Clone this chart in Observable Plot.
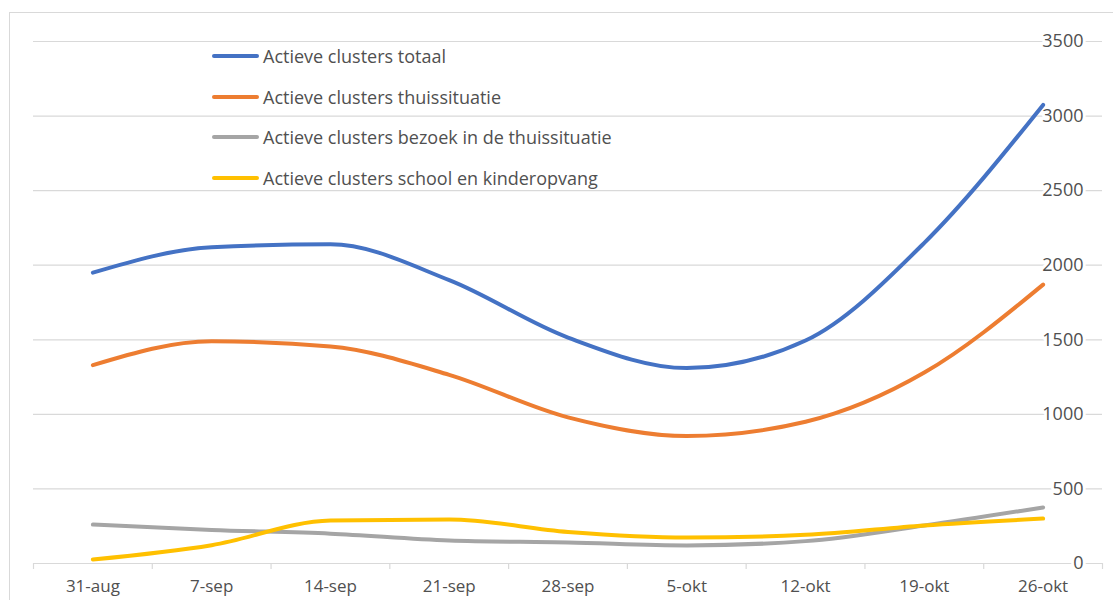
<!DOCTYPE html>
<html>
<head>
<meta charset="utf-8">
<script src="https://cdn.jsdelivr.net/npm/d3@7"></script>
<script src="https://cdn.jsdelivr.net/npm/@observablehq/plot@0.6"></script>
<style>
  body { margin: 0; background: #fff; font-family: "Open Sans", sans-serif; }
  #wrap { position: relative; width: 1113px; height: 600px; overflow: hidden; }
  #frame { position: absolute; left: 9px; top: 12px; width: 1110px; height: 600px; border-left: 1px solid #d9d9d9; border-top: 1px solid #d9d9d9; }
  #chart { position: absolute; left: 0; top: 0; }
  #legend { position: absolute; left: 212px; top: 36px; }
  .item { display: flex; align-items: center; height: 40.5px; font-size: 18px; color: #505050; }
  .sw { width: 47px; height: 4px; margin-right: 4px; border-radius: 2px; }
</style>
</head>
<body>
<div id="wrap">
  <div id="frame"></div>
  <div id="chart"></div>
  <div id="legend"></div>
</div>
<script>
const categories = ["31-aug", "7-sep", "14-sep", "21-sep", "28-sep", "5-okt", "12-okt", "19-okt", "26-okt"];
const seriesNames = [
  "Actieve clusters totaal",
  "Actieve clusters thuissituatie",
  "Actieve clusters bezoek in de thuissituatie",
  "Actieve clusters school en kinderopvang"
];
const seriesColors = ["#4472C4", "#ED7D31", "#A5A5A5", "#FFC000"];
const totaal        = [1950, 2120, 2140, 1900, 1515, 1310, 1495, 2150, 3075];
const thuissituatie = [1330, 1490, 1455, 1265, 980, 855, 950, 1280, 1870];
const bezoek        = [261, 225, 200, 154, 141, 121, 150, 255, 376];
const school        = [27, 123, 288, 295, 212, 174, 192, 255, 301];
const yTicks = [0, 500, 1000, 1500, 2000, 2500, 3000, 3500];

const seriesValues = [totaal, thuissituatie, bezoek, school];
const rows = [];
seriesValues.forEach((vals, s) => vals.forEach((v, i) => rows.push({series: seriesNames[s], i, v})));
const centers = categories.map((_, i) => i);
const bounds = [...categories.map((_, i) => i - 0.5), categories.length - 0.5];

const chart = Plot.plot({
  width: 1113,
  height: 600,
  marginLeft: 33,
  marginRight: 11,
  marginTop: 41,
  marginBottom: 37,
  style: {fontFamily: "Open Sans", background: "transparent"},
  x: {domain: [-0.5, categories.length - 0.5], axis: null},
  y: {domain: [0, 3500], axis: null},
  color: {domain: seriesNames, range: seriesColors},
  marks: [
    Plot.ruleY(yTicks, {stroke: "#d9d9d9", strokeWidth: 1.2}),
    Plot.axisX({ticks: bounds, tickFormat: () => "", tickSize: 6, stroke: "#d9d9d9", strokeWidth: 1.2, label: null}),
    Plot.axisX({ticks: centers, tickFormat: i => categories[i], tickSize: 0, tickPadding: 16, fontSize: 17, fill: "#505050", label: null}),
    Plot.text(yTicks, {y: d => d, frameAnchor: "right", textAnchor: "end", dx: -19, text: d => String(d), fontSize: 18, fill: "#505050", stroke: "white", strokeWidth: 6}),
    Plot.line(rows, {x: "i", y: "v", z: "series", stroke: "series", strokeWidth: 4, curve: "monotone-x"})
  ]
});
document.getElementById("chart").appendChild(chart);

const legend = document.getElementById("legend");
seriesNames.forEach((n, s) => {
  const d = document.createElement("div");
  d.className = "item";
  d.innerHTML = `<span class="sw" style="background:${seriesColors[s]}"></span><span>${n}</span>`;
  legend.appendChild(d);
});
</script>
</body>
</html>
